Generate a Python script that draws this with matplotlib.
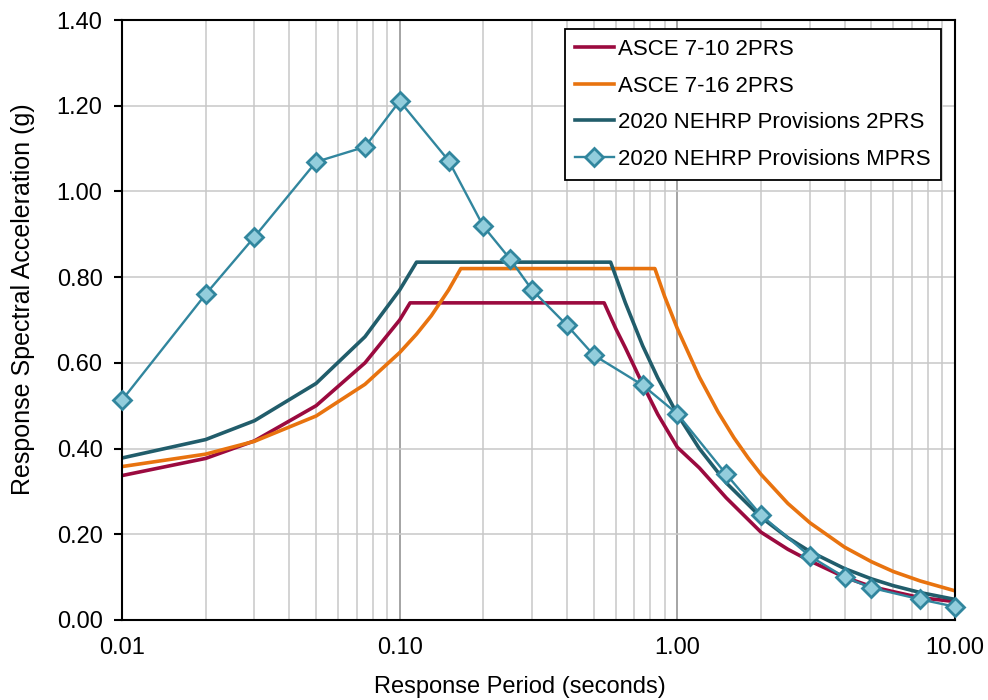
import numpy as np
import matplotlib.pyplot as plt
from matplotlib.ticker import FixedLocator, LogLocator, NullFormatter

plt.rcParams['font.family'] = ['Liberation Sans', 'DejaVu Sans']

# ----------- DONNÉES -----------
t_asce10 = [0.01, 0.02, 0.03, 0.05, 0.075, 0.1, 0.109, 0.545, 0.6, 0.65, 0.75,
            0.85, 1.0, 1.2, 1.5, 2.0, 2.5, 3.0, 4.0, 5.0, 6.0, 7.5, 10.0]
sa_asce10 = [0.337, 0.377, 0.418, 0.50, 0.60, 0.70, 0.74, 0.74, 0.68, 0.635, 0.55,
             0.48, 0.403, 0.355, 0.285, 0.205, 0.165, 0.138, 0.10, 0.078, 0.066, 0.052, 0.043]

t_asce16 = [0.01, 0.02, 0.03, 0.05, 0.075, 0.1, 0.115, 0.13, 0.15, 0.166, 0.83,
            0.9, 1.0, 1.2, 1.4, 1.6, 1.8, 2.0, 2.5, 3.0, 4.0, 5.0, 6.0, 7.5, 10.0]
sa_asce16 = [0.358, 0.387, 0.417, 0.476, 0.550, 0.624, 0.667, 0.71, 0.77, 0.82, 0.82,
             0.755, 0.68, 0.567, 0.486, 0.425, 0.378, 0.34, 0.272, 0.227, 0.17, 0.136,
             0.113, 0.091, 0.068]

t_nehrp = [0.01, 0.02, 0.03, 0.05, 0.075, 0.1, 0.115, 0.575, 0.65, 0.75, 0.85,
           1.0, 1.2, 1.5, 2.0, 2.5, 3.0, 4.0, 5.0, 6.0, 7.5, 10.0]
sa_nehrp = [0.378, 0.421, 0.465, 0.552, 0.661, 0.770, 0.835, 0.835, 0.74, 0.64, 0.565,
            0.48, 0.40, 0.32, 0.24, 0.192, 0.16, 0.12, 0.096, 0.08, 0.064, 0.048]

t_mprs = [0.01, 0.02, 0.03, 0.05, 0.075, 0.1, 0.15, 0.2, 0.25, 0.3, 0.4,
          0.5, 0.75, 1.0, 1.5, 2.0, 3.0, 4.0, 5.0, 7.5, 10.0]
sa_mprs = [0.513, 0.760, 0.894, 1.069, 1.104, 1.211, 1.072, 0.919, 0.842, 0.770, 0.688,
           0.618, 0.548, 0.481, 0.340, 0.245, 0.149, 0.100, 0.075, 0.048, 0.031]

x_ticks = [0.01, 0.1, 1.0, 10.0]
x_labels = ['0.01', '0.10', '1.00', '10.00']
y_ticks = np.arange(0, 1.41, 0.2)

# ----------- FIGURE -----------
fig = plt.figure(figsize=(9.88, 7.0), dpi=100)
ax = fig.add_axes([0.1235, 0.1143, 0.8431, 0.8571])

ax.plot(t_asce10, sa_asce10, color='#9B0A3F', lw=2.6, label='ASCE 7-10 2PRS')
ax.plot(t_asce16, sa_asce16, color='#E8730F', lw=2.6, label='ASCE 7-16 2PRS')
ax.plot(t_nehrp, sa_nehrp, color='#215D6B', lw=2.6, label='2020 NEHRP Provisions 2PRS')
ax.plot(t_mprs, sa_mprs, color='#31869E', lw=1.7, marker='D', markersize=9.5,
        markerfacecolor='#92CDDC', markeredgecolor='#31869E', markeredgewidth=2.0,
        label='2020 NEHRP Provisions MPRS', clip_on=False, zorder=5)

ax.set_xscale('log')
ax.set_xlim(0.01, 10)
ax.set_ylim(0, 1.4)

ax.xaxis.set_major_locator(FixedLocator(x_ticks))
ax.set_xticklabels(x_labels)
ax.xaxis.set_minor_locator(LogLocator(base=10, subs=np.arange(2, 10)))
ax.xaxis.set_minor_formatter(NullFormatter())
ax.set_yticks(y_ticks)
ax.set_yticklabels([f'{v:.2f}' for v in y_ticks])

ax.grid(which='minor', axis='x', color='#C8C8C8', lw=1.1)
ax.grid(which='major', axis='x', color='#8C8C8C', lw=1.1)
ax.grid(which='major', axis='y', color='#C8C8C8', lw=1.1)
ax.set_axisbelow(True)

ax.tick_params(axis='x', which='both', length=0, pad=12, labelsize=17)
ax.tick_params(axis='y', length=6, width=1.5, direction='out', pad=8, labelsize=17)

for s in ax.spines.values():
    s.set_color('black')
    s.set_linewidth(1.5)

ax.set_xlabel('Response Period (seconds)', fontsize=17)
ax.set_ylabel('Response Spectral Acceleration (g)', fontsize=18)
# position des titres d'axes comme dans l'original
ax.xaxis.set_label_coords(0.478, -0.093)
ax.yaxis.set_label_coords(-0.105, 0.535)

leg = ax.legend(loc='upper right', bbox_to_anchor=(0.983, 0.985), fontsize=16,
                fancybox=False, edgecolor='black', framealpha=1,
                handlelength=1.75, handletextpad=0.2, labelspacing=0.7,
                borderpad=0.45, borderaxespad=0)
leg.get_frame().set_linewidth(1.3)

fig.savefig('out.png', dpi=100)
